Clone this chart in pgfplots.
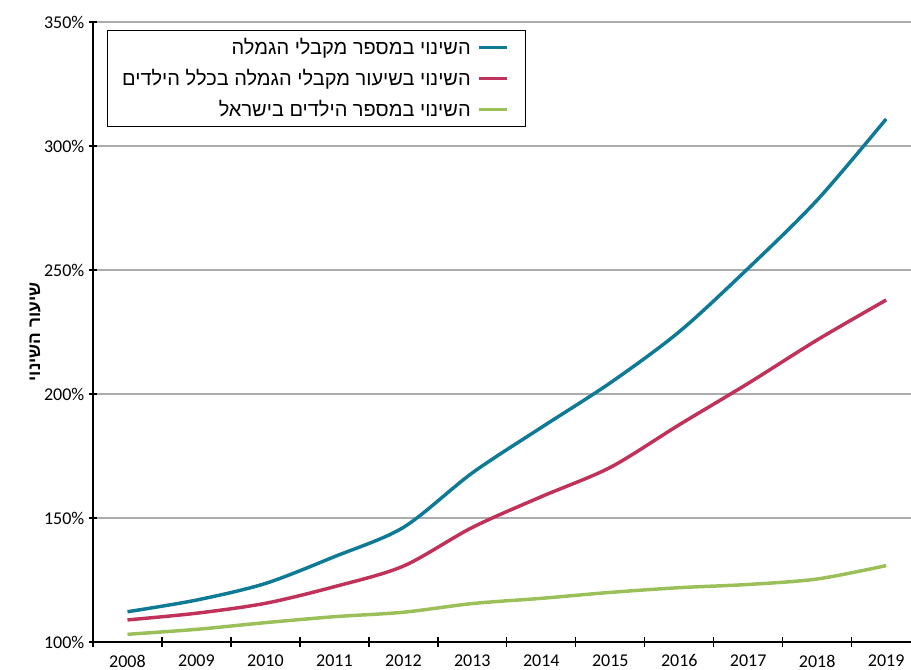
\documentclass[border=0pt]{standalone}
\usepackage{fontspec}
\setmainfont{Carlito}
\newfontfamily\heb[Script=Hebrew]{Liberation Sans}
\TeXXeTstate=1
\usepackage{pgfplots}
\pgfplotsset{compat=1.18}
\definecolor{cTeal}{HTML}{0E7A96}
\definecolor{cRed}{HTML}{C0325A}
\definecolor{cGreen}{HTML}{9BC05A}
\begin{document}
\begin{tikzpicture}
\begin{axis}[
  name=ax,
  scale only axis,
  width=613.5pt, height=465pt,
  xmin=-0.5, xmax=11.36,
  ymin=100, ymax=350,
  ytick={100,150,200,250,300,350},
  yticklabel={\pgfmathprintnumber{\tick}\%},
  /pgf/number format/assume math mode=true,
  xtick={0,...,11},
  xticklabels={2008,2009,2010,2011,2012,2013,2014,2015,2016,2017,2018,2019},
  minor xtick={-0.5,0.5,...,11.5},
  major tick length=6pt,
  minor tick length=7pt,
  xtick style={draw=none},
  minor x tick style={draw=black, line width=1pt},
  ytick style={draw=black, line width=1pt},
  tick align=center,
  axis x line*=bottom,
  axis y line*=left,
  axis line style={-, black, line width=1.2pt},
  ymajorgrids,
  major grid style={draw=gray!65, line width=0.8pt},
  tick label style={font=\fontsize{13.5}{15}\selectfont},
  xticklabel style={yshift=-3pt},
  ylabel={\heb\bfseries\beginR שיעור השינוי\endR},
  ylabel style={font=\fontsize{13}{15}\selectfont, anchor=center, at={(axis description cs:-0.0709,0.5)}},
  legend plot pos=right,
  legend cell align=right,
  legend style={at={(axis description cs:0.0171,0.987)}, anchor=north west,
    draw=black, line width=0.8pt, font=\heb\fontsize{15}{17}\selectfont,
    row sep=5.5pt, inner xsep=9pt, inner ysep=4pt},
  legend image code/.code={\draw[#1] (0pt,0pt) -- (21pt,0pt); \path[draw=none] (-4pt,0pt) -- (26pt,0pt);},
  every axis plot/.append style={line width=2.6pt, smooth, tension=0.5},
]
\addplot[cTeal] coordinates {(0,112.2) (1,116.9) (2,123.6) (3,134.4) (4,146.2) (5,168.2) (6,186.5) (7,204.5) (8,225.1) (9,250.7) (10,278.2) (11,310.9)};
\addlegendentry{\beginR השינוי במספר מקבלי הגמלה\endR}
\addplot[cRed] coordinates {(0,108.9) (1,111.6) (2,115.6) (3,122.3) (4,130.6) (5,146.2) (6,158.6) (7,170.4) (8,187.6) (9,204.3) (10,221.8) (11,237.9)};
\addlegendentry{\beginR השינוי בשיעור מקבלי הגמלה בכלל הילדים\endR}
\addplot[cGreen] coordinates {(0,103.1) (1,105.1) (2,107.8) (3,110.2) (4,112.0) (5,115.5) (6,117.6) (7,120.0) (8,121.9) (9,123.2) (10,125.4) (11,130.8)};
\addlegendentry{\beginR השינוי במספר הילדים בישראל\endR}
\end{axis}
\pgfresetboundingbox
\path[use as bounding box] ([xshift=-69.75pt,yshift=-21pt]ax.south west) rectangle ([yshift=16.5pt]ax.north east);
\end{tikzpicture}
\end{document}
